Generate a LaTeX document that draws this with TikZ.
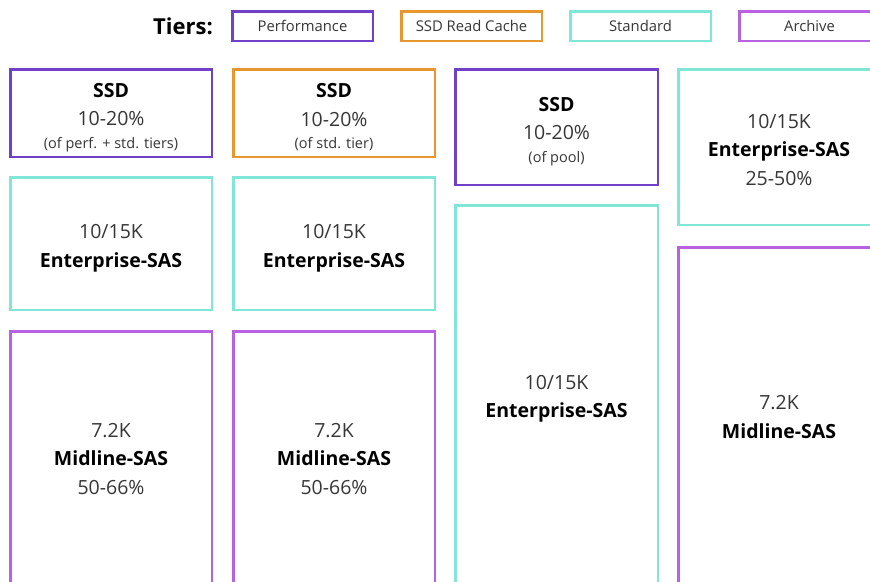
\documentclass[tikz,border=0pt]{standalone}
\usepackage{fontspec}
\setmainfont{Open Sans}
\definecolor{cperf}{HTML}{7040C8}
\definecolor{ccache}{HTML}{E8962E}
\definecolor{cstd}{HTML}{80E6D8}
\definecolor{carch}{HTML}{B862E0}
\definecolor{txt}{HTML}{363636}
\tikzset{
  box/.style={draw, rectangle, line width=2.5pt, inner sep=0pt, outer sep=0pt, align=center, text=txt,
    font=\fontsize{19.5}{28.5}\selectfont},
  perfbox/.style={box, draw=cperf},
  cachebox/.style={box, draw=ccache},
  stdbox/.style={box, draw=cstd},
  archbox/.style={box, draw=carch},
  legend/.style={minimum width=140.5pt, minimum height=29.5pt, font=\fontsize{14.8}{18}\selectfont},
  wA/.style={minimum width=201.5pt},
  wB/.style={minimum width=202.5pt},
}
\newcommand{\bk}[1]{\textcolor{black}{\bfseries #1}}
\newcommand{\sm}[1]{{\fontsize{14.5}{16}\selectfont #1}}
\newcommand{\up}[1]{\rule{0pt}{#1}}
\begin{document}
\begin{tikzpicture}[x=1pt,y=-1pt]
\clip (0,0) rectangle (870,581);
\fill[white] (0,0) rectangle (870,581);
% legend
\node[anchor=east, font=\fontsize{22}{24}\selectfont\bfseries, text=black, inner sep=0pt] (tiers) at (213,26.5) {Tiers:};
\node[perfbox, legend] (lperf) at (302.5,26) {Performance};
\node[cachebox, legend] (lcache) at (471.5,26) {SSD Read Cache};
\node[stdbox, legend] (lstd) at (640.5,26) {Standard};
\node[archbox, legend] (larch) at (809.5,26) {Archive};
% column 1
\node[perfbox, wA, minimum height=87.5pt] (ssd1) at (111,113) {\up{22.5pt}\bk{SSD}\\[0pt] 10-20\%\\[-6pt] \sm{(of perf. + std. tiers)}};
\node[stdbox, wA, minimum height=132.5pt] (ent1) at (111,243.5) {\up{24pt}10/15K\\ \bk{Enterprise-SAS}};
\node[archbox, wA, minimum height=255.5pt] (mid1) at (111,459) {7.2K\\ \bk{Midline-SAS}\\ 50-66\%};
% column 2
\node[cachebox, wA, minimum height=87.5pt] (ssd2) at (334,113) {\up{22.5pt}\bk{SSD}\\[0pt] 10-20\%\\[-6pt] \sm{(of std. tier)}};
\node[stdbox, wA, minimum height=132.5pt] (ent2) at (334,243.5) {\up{24pt}10/15K\\ \bk{Enterprise-SAS}};
\node[archbox, wA, minimum height=255.5pt] (mid2) at (334,459) {7.2K\\ \bk{Midline-SAS}\\ 50-66\%};
% column 3
\node[perfbox, wB, minimum height=115.5pt] (ssd3) at (556.5,127) {\up{22.5pt}\bk{SSD}\\[0pt] 10-20\%\\[-6pt] \sm{(of pool)}};
\node[stdbox, wB, minimum height=379.5pt] (ent3) at (556.5,395) {\up{21.5pt}10/15K\\ \bk{Enterprise-SAS}};
% column 4
\node[stdbox, wA, minimum height=155.5pt] (ent4) at (779,147) {\up{20pt}10/15K\\ \bk{Enterprise-SAS}\\ 25-50\%};
\node[archbox, wA, minimum height=339.5pt] (mid4) at (779,417) {7.2K\\ \bk{Midline-SAS}};
\end{tikzpicture}
\end{document}
